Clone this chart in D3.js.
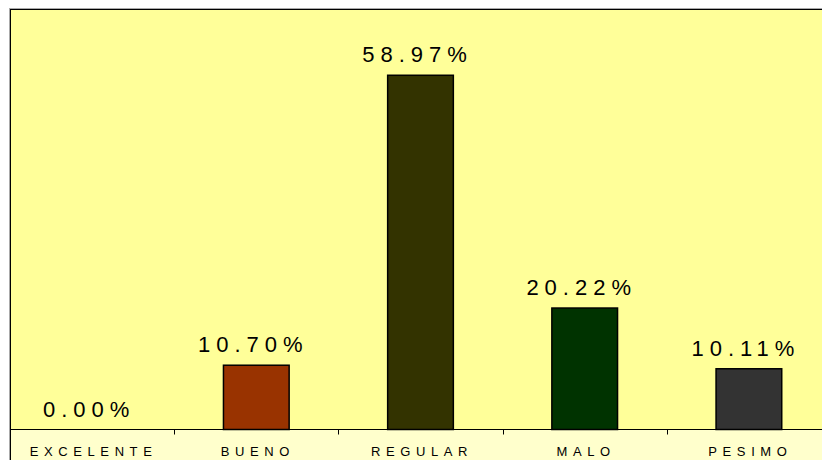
<!DOCTYPE html>
<html><head><meta charset="utf-8">
<script src="https://cdn.jsdelivr.net/npm/d3@7"></script>
<style>html,body{margin:0;padding:0;background:#fff;}</style>
</head><body>
<script>
const categories = ["EXCELENTE","BUENO","REGULAR","MALO","PESIMO"];
const values = [0.00, 10.70, 58.97, 20.22, 10.11];
const colors = ["#FFFF99","#993300","#333300","#003300","#333333"];

const W = 822, H = 460;
const svg = d3.select("body").append("svg").attr("width", W).attr("height", H);

const plotLeft = 10, plotTop = 9, axisY = 429.5, plotRight = 831;
const x = d3.scaleBand().domain(categories).range([plotLeft, plotRight]).paddingInner(0.6).paddingOuter(0.3);
const y = d3.scaleLinear().domain([0, 70]).range([axisY, plotTop]);

// background below axis
svg.append("rect").attr("x", plotLeft).attr("y", axisY).attr("width", W).attr("height", H - axisY).attr("fill", "#FFFFCC");
// plot area
svg.append("rect").attr("x", plotLeft).attr("y", plotTop).attr("width", W).attr("height", axisY - plotTop).attr("fill", "#FFFF99");
svg.append("line").attr("x1", plotLeft - 1).attr("x2", W).attr("y1", plotTop - 0.5).attr("y2", plotTop - 0.5).attr("stroke", "#aaa");
svg.append("line").attr("x1", plotLeft - 0.5).attr("x2", plotLeft - 0.5).attr("y1", plotTop).attr("y2", H).attr("stroke", "#aaa");
svg.append("line").attr("x1", plotLeft).attr("x2", W).attr("y1", plotTop + 0.5).attr("y2", plotTop + 0.5).attr("stroke", "#000");
svg.append("line").attr("x1", plotLeft + 0.5).attr("x2", plotLeft + 0.5).attr("y1", plotTop).attr("y2", H).attr("stroke", "#000");

// bars
svg.selectAll("rect.bar").data(categories).enter().append("rect").attr("class", "bar")
  .attr("x", d => x(d)).attr("width", x.bandwidth())
  .attr("y", (d, i) => y(values[i])).attr("height", (d, i) => axisY - y(values[i]))
  .attr("fill", (d, i) => colors[i]).attr("stroke", "#000").attr("stroke-width", 1.5);

// axis
const step = x.step();
svg.append("line").attr("x1", plotLeft).attr("x2", W).attr("y1", axisY).attr("y2", axisY).attr("stroke", "#000").attr("stroke-width", 1);
svg.selectAll("line.tick").data(categories.slice(1)).enter().append("line").attr("class", "tick")
  .attr("x1", d => Math.round(x(d) + x.bandwidth() / 2 - step / 2) + 0.5)
  .attr("x2", d => Math.round(x(d) + x.bandwidth() / 2 - step / 2) + 0.5)
  .attr("y1", axisY).attr("y2", axisY + 5).attr("stroke", "#000");

// category labels
svg.selectAll("text.cat").data(categories).enter().append("text").attr("class", "cat")
  .attr("x", d => x(d) + x.bandwidth() / 2 + 1.5).attr("y", 456)
  .attr("text-anchor", "middle").attr("font-family", "Liberation Sans, Arial, sans-serif")
  .attr("font-size", 13).attr("letter-spacing", 5.6).attr("fill", "#000").text(d => d);

// value labels
const fmt = d3.format(".2f");
svg.selectAll("text.val").data(categories).enter().append("text").attr("class", "val")
  .attr("x", d => x(d) + x.bandwidth() / 2 - 3).attr("y", (d, i) => y(values[i]) - 13)
  .attr("text-anchor", "middle").attr("font-family", "Liberation Sans, Arial, sans-serif")
  .attr("font-size", 22).attr("letter-spacing", 6).attr("fill", "#000").text((d, i) => fmt(values[i]) + "%");
</script>
</body></html>
